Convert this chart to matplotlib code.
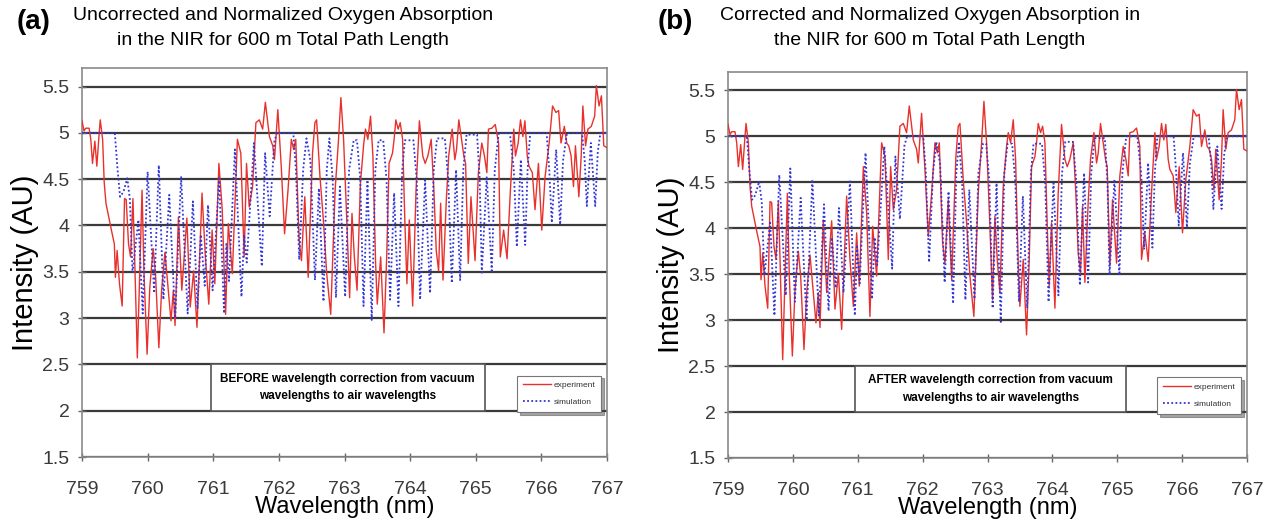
import numpy as np
import matplotlib
matplotlib.use('Agg')
import matplotlib.pyplot as plt
from matplotlib.patches import Rectangle

plt.rcParams['font.family'] = ['Liberation Sans', 'DejaVu Sans']

# measured O2 A-band spectrum: air wavelength (nm), normalized intensity
exp_wl = [759.000, 759.031, 759.057, 759.108, 759.134, 759.160, 759.196, 759.226, 759.262, 759.278,
          759.314, 759.339, 759.365, 759.416, 759.442, 759.493, 759.509, 759.535, 759.571, 759.612,
          759.648, 759.673, 759.709, 759.740, 759.776, 759.802, 759.843, 759.879, 759.915, 759.945,
          759.992, 760.033, 760.084, 760.120, 760.171, 760.213, 760.264, 760.315, 760.356, 760.392,
          760.418, 760.469, 760.521, 760.598, 760.649, 760.701, 760.752, 760.829, 760.880, 760.932,
          760.983, 761.024, 761.086, 761.137, 761.188, 761.230, 761.291, 761.368, 761.420, 761.471,
          761.507, 761.548, 761.599, 761.650, 761.702, 761.753, 761.794, 761.856, 761.907, 761.933,
          761.984, 762.036, 762.087, 762.139, 762.190, 762.226, 762.257, 762.308, 762.344, 762.395,
          762.447, 762.513, 762.549, 762.575, 762.626, 762.678, 762.729, 762.790, 762.857, 762.909,
          762.945, 762.986, 763.037, 763.078, 763.114, 763.150, 763.191, 763.243, 763.294, 763.320,
          763.356, 763.397, 763.433, 763.474, 763.499, 763.551, 763.602, 763.643, 763.679, 763.731,
          763.756, 763.782, 763.818, 763.849, 763.885, 763.921, 763.951, 763.987, 764.039, 764.090,
          764.141, 764.193, 764.229, 764.270, 764.321, 764.362, 764.398, 764.434, 764.465, 764.501,
          764.552, 764.588, 764.640, 764.681, 764.707, 764.742, 764.783, 764.819, 764.845, 764.886,
          764.927, 764.989, 765.040, 765.092, 765.133, 765.169, 765.194, 765.246, 765.297, 765.348,
          765.374, 765.425, 765.477, 765.528, 765.580, 765.605, 765.646, 765.682, 765.718, 765.749,
          765.785, 765.811, 765.862, 765.903, 765.955, 766.006, 766.057, 766.119, 766.170, 766.222,
          766.263, 766.299, 766.350, 766.386, 766.417, 766.453, 766.489, 766.519, 766.571, 766.607,
          766.632, 766.674, 766.709, 766.761, 766.812, 766.838, 766.879, 766.915, 766.951, 767.000]
exp_val = [5.13, 5.02, 5.05, 5.05, 4.93, 4.67, 4.91, 4.64, 5.00, 5.14,
           4.93, 4.46, 4.24, 4.06, 3.97, 3.80, 3.44, 3.73, 3.37, 3.13,
           4.29, 4.28, 3.80, 3.66, 4.29, 3.66, 2.57, 3.48, 4.38, 3.48,
           2.61, 3.33, 3.75, 3.48, 2.68, 3.30, 3.71, 3.30, 2.97, 3.30,
           2.92, 4.09, 3.30, 4.08, 3.12, 3.51, 2.90, 4.35, 3.66, 3.15,
           3.95, 3.37, 4.67, 4.17, 3.04, 4.02, 3.48, 4.93, 4.78, 3.66,
           4.67, 4.20, 4.42, 5.11, 5.14, 5.04, 5.33, 4.96, 4.86, 4.71,
           5.25, 4.64, 3.91, 4.38, 4.93, 4.82, 4.93, 3.84, 3.62, 4.31,
           3.44, 4.78, 5.11, 5.14, 4.53, 4.06, 3.48, 3.04, 4.38, 4.93,
           5.38, 4.93, 4.02, 3.22, 4.13, 3.66, 3.30, 4.46, 4.89, 5.04,
           4.93, 5.18, 4.75, 3.59, 3.15, 3.66, 2.84, 3.66, 4.67, 4.78,
           4.93, 5.14, 5.04, 5.11, 4.93, 4.02, 3.37, 4.06, 3.13, 4.38,
           5.13, 4.75, 4.67, 4.75, 4.93, 4.38, 3.73, 3.51, 4.24, 3.41,
           4.28, 4.75, 5.04, 4.71, 4.82, 5.14, 4.93, 4.75, 4.67, 3.59,
           4.31, 3.62, 4.57, 4.89, 4.75, 4.57, 5.04, 5.05, 5.09, 4.89,
           3.66, 3.95, 3.64, 4.38, 5.04, 4.75, 4.89, 5.14, 4.96, 5.13,
           4.75, 4.64, 4.57, 4.17, 4.67, 3.95, 4.53, 4.89, 5.29, 5.22,
           5.24, 4.89, 5.07, 4.89, 4.86, 4.75, 4.42, 4.86, 4.31, 4.75,
           5.29, 4.86, 5.04, 5.07, 5.18, 5.51, 5.29, 5.40, 4.86, 4.84]

# line-by-line simulation, given on vacuum wavelengths (nm)
sim_wl_vac = [759.00, 759.50, 759.54, 759.58, 759.63, 759.69, 759.73, 759.77, 759.86, 759.925,
              760.00, 760.10, 760.17, 760.24, 760.33, 760.42, 760.51, 760.61, 760.69, 760.76,
              760.81, 760.87, 760.92, 760.99, 761.09, 761.165, 761.20, 761.24, 761.33, 761.43,
              761.47, 761.51, 761.62, 761.74, 761.79, 761.86, 761.93, 761.97, 762.22, 762.26,
              762.31, 762.37, 762.42, 762.48, 762.55, 762.61, 762.68, 762.73, 762.77, 762.82,
              762.87, 762.93, 763.01, 763.07, 763.14, 763.19, 763.24, 763.29, 763.35, 763.415,
              763.47, 763.52, 763.59, 763.64, 763.695, 763.756, 763.822, 763.88, 763.92, 764.05,
              764.10, 764.152, 764.228, 764.304, 764.36, 764.41, 764.53, 764.58, 764.635, 764.70,
              764.762, 764.81, 764.86, 765.02, 765.06, 765.092, 765.168, 765.244, 765.29, 765.35,
              765.52, 765.58, 765.626, 765.687, 765.753, 765.79, 765.83, 766.08, 766.12, 766.159,
              766.225, 766.286, 766.33, 766.39, 766.62, 766.66, 766.693, 766.754, 766.820, 766.86,
              766.90, 767.30]
sim_val = [5.00, 5.00, 4.62, 4.31, 4.36, 4.51, 4.28, 3.49, 4.06, 3.05,
           4.58, 3.27, 4.65, 3.20, 4.33, 3.00, 4.53, 3.05, 4.26, 3.10,
           3.90, 3.35, 4.22, 3.30, 4.51, 3.05, 3.80, 3.40, 4.82, 3.23,
           3.90, 3.60, 4.89, 3.56, 4.78, 4.10, 4.90, 5.00, 5.00, 4.60,
           3.63, 4.60, 4.94, 4.70, 3.41, 4.40, 3.18, 4.60, 4.94, 4.50,
           3.22, 4.42, 3.23, 4.60, 4.92, 4.92, 4.50, 3.13, 4.49, 2.98,
           4.60, 4.92, 4.92, 4.50, 3.20, 4.35, 3.13, 4.60, 4.92, 4.92,
           4.50, 3.20, 4.49, 3.27, 4.60, 4.94, 4.94, 4.50, 3.38, 4.60,
           3.41, 4.60, 4.98, 4.98, 4.50, 3.49, 4.53, 3.49, 4.60, 5.00,
           5.00, 4.60, 3.77, 4.71, 3.79, 4.60, 5.00, 5.00, 4.60, 4.03,
           4.82, 4.01, 4.70, 5.00, 5.00, 4.70, 4.21, 4.89, 4.21, 4.80,
           5.00, 5.00]

# refractive index of air near 760 nm, for the vacuum -> air conversion
N_AIR = 1.000276

sim_wl_vac = np.array(sim_wl_vac)
sim_wl_air = sim_wl_vac / N_AIR

panels = [
    dict(tag='(a)', title='Uncorrected and Normalized Oxygen Absorption\nin the NIR for 600 m Total Path Length',
         note='BEFORE wavelength correction from vacuum\nwavelengths to air wavelengths',
         sim_x=sim_wl_vac, rect=[82/1276, 1-457/525, 525/1276, 389/525],
         tag_x=34/1276, title_x=283/1276),
    dict(tag='(b)', title='Corrected and Normalized Oxygen Absorption in\nthe NIR for 600 m Total Path Length',
         note='AFTER wavelength correction from vacuum\nwavelengths to air wavelengths',
         sim_x=sim_wl_air, rect=[728/1276, 1-458/525, 519/1276, 386/525],
         tag_x=675/1276, title_x=930/1276),
]

fig = plt.figure(figsize=(12.76, 5.25), dpi=100)

for p in panels:
    ax = fig.add_axes(p['rect'])
    ax.plot(exp_wl, exp_val, color='#e8312c', lw=1.0, label='experiment', zorder=3)
    ax.plot(p['sim_x'], sim_val, color='#3236d6', lw=1.3, ls=(0, (1, 1.3)), label='simulation', zorder=4)

    ax.set_xlim(759, 767)
    ax.set_ylim(1.5, 5.7)
    ax.set_xticks(range(759, 768))
    ax.set_yticks(np.arange(1.5, 5.51, 0.5))
    ax.set_yticklabels(['1.5', '2', '2.5', '3', '3.5', '4', '4.5', '5', '5.5'])
    ax.yaxis.grid(True, color='#3a3a3a', lw=1.6)
    ax.set_axisbelow(True)
    for s in ax.spines.values():
        s.set_color('#8a8a8a')
        s.set_linewidth(1.2)
    ax.tick_params(axis='both', labelsize=14, labelcolor='#3a3a3a', color='#666666',
                   direction='inout', length=6, width=1.0)
    ax.tick_params(axis='x', pad=14)
    ax.tick_params(axis='y', pad=6)

    ax.set_xlabel('Wavelength (nm)', fontsize=17, labelpad=-1)
    ax.set_ylabel('Intensity (AU)', fontsize=21, labelpad=2)

    # annotation box sitting between the 2.0 and 2.5 grid lines
    ax.add_patch(Rectangle((760.96, 2.0), 4.18, 0.5, facecolor='white',
                           edgecolor='#555555', lw=1.2, zorder=5))
    ax.text(763.05, 2.25, p['note'], ha='center', va='center', fontsize=8.5,
            fontweight='bold', linespacing=1.6, zorder=6)

    leg = ax.legend(loc='upper right', bbox_to_anchor=(0.997, 0.22), fontsize=6,
                    frameon=True, fancybox=False, shadow=True, handlelength=3.4,
                    borderpad=0.7, labelspacing=1.1, handletextpad=0.3)
    leg.get_frame().set_edgecolor('#777777')
    leg.get_frame().set_linewidth(0.8)
    for t in leg.get_texts():
        t.set_color('#333333')

    fig.text(p['tag_x'], 1-22/525, p['tag'], ha='center', va='center', fontsize=20, fontweight='bold')
    fig.text(p['title_x'], 1-28/525, p['title'], ha='center', va='center', fontsize=14,
             linespacing=1.55)

fig.savefig('out.png', dpi=100, facecolor='white')
